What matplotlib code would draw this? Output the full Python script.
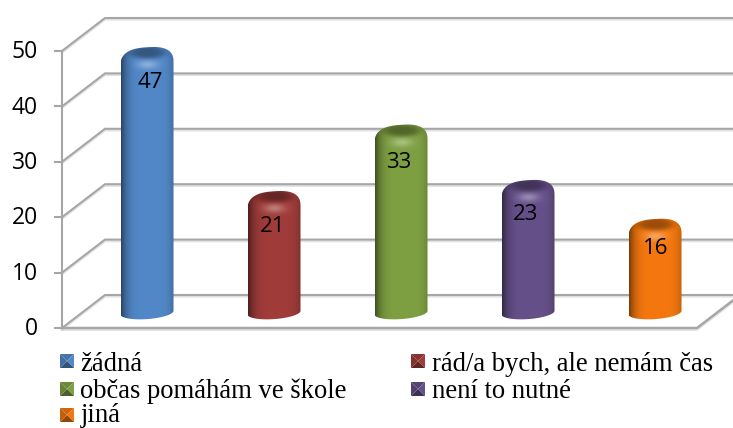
import numpy as np
import matplotlib
matplotlib.use("Agg")
import matplotlib.pyplot as plt
from matplotlib.patches import PathPatch, Polygon
from matplotlib.path import Path
import matplotlib.patheffects as pe

categories = ['žádná', 'rád/a bych, ale nemám čas', 'občas pomáhám ve škole', 'není to nutné', 'jiná']
values = [47, 21, 33, 23, 16]
ticks = [0, 10, 20, 30, 40, 50]
colors = ['#5288c8', '#a03c3a', '#7fa042', '#66508a', '#f4780f']
# label nudges in pixels, the labels do not sit at one fixed distance from the bar top
label_dx = [3, -1, -2, -2, 1]
label_dy = [14.5, 14.5, 17, 13.5, 9]

W, H = 733, 428
X0, XPX = 147.0, 127.0      # pixel of category 0, pixels per category
Y0, YPX = 328.0, 5.54       # pixel of value 0, pixels per unit
DX, DY = 43 / XPX, 33 / YPX  # depth of the 3d box
HW = 26.5 / XPX


def hex_rgb(c):
    return np.array(matplotlib.colors.to_rgb(c))


def cylinder(ax, i, val, col):
    cx = i
    base = DY / 2 - 0.2
    top_h = (val + 0.7 + DY / 2 - base) * YPX  # height in pixels
    tilt = 1.5
    # outline, u runs -1..1 across the bar, h is pixels above the base
    t = np.linspace(np.pi, 2 * np.pi, 40)
    us = list(np.cos(t))
    hs = list(6.5 * np.sin(t))
    t = np.linspace(0, np.pi, 50)
    c, s = np.cos(t), np.sin(t)
    us += list(np.sign(c) * np.abs(c) ** 0.75)
    hs += list(top_h - 17 + 17 * s ** 0.75)
    us = np.array(us)
    hs = np.array(hs) + tilt * us * 1.2
    pts = np.column_stack([cx + us * HW, base + hs / YPX])
    clip = PathPatch(Path(pts, closed=False), transform=ax.transData, fc='none', ec='none')
    ax.add_patch(clip)

    # shaded cylinder body
    uu, hh = np.meshgrid(np.linspace(-1, 1, 80), np.linspace(-8, top_h + 3, 300))
    f = 1.0 - 0.5 * np.abs((uu - 0.1) / 1.1) ** 4.5
    rgb = hex_rgb(col)[None, None, :] * f[..., None]
    cap = np.exp(-(((uu) / 0.7) ** 2 + ((hh - (top_h - 5)) / 6.5) ** 2) ** 2)
    rgb = rgb * (1 - 0.36 * cap[..., None])
    glow = np.exp(-((uu / 0.4) ** 2 + ((hh - (top_h - 17)) / 4.5) ** 2))
    rgb = rgb + (1 - rgb) * 0.32 * glow[..., None]
    im = ax.imshow(np.clip(rgb, 0, 1), origin='lower', aspect='auto', zorder=3,
                   extent=(cx - HW, cx + HW, base - 8 / YPX, base + (top_h + 3) / YPX),
                   interpolation='bilinear')
    im.set_clip_path(clip)


def legend_box(ax, px, py, col):
    s = 14
    c = hex_rgb(col)
    tr = ax.transAxes
    def P(a, b):
        return ((px + a) / W, 1 - (py + b) / H)
    tris = [
        ([P(0, 0), P(s, 0), P(s / 2, s / 2)], c * 0.85),
        ([P(s, 0), P(s, s), P(s / 2, s / 2)], c * 1.0),
        ([P(s, s), P(0, s), P(s / 2, s / 2)], c * 0.6),
        ([P(0, s), P(0, 0), P(s / 2, s / 2)], c * 0.8),
    ]
    for verts, fc in tris:
        ax.add_patch(Polygon(verts, closed=True, transform=tr, fc=np.clip(fc, 0, 1), ec='none', zorder=4))


fig = plt.figure(figsize=(W / 100, H / 100), dpi=100)
ax = fig.add_axes([0, 0, 1, 1])
ax.axis('off')

grey = '#a6a6a6'
shadow = [pe.SimpleLineShadow(offset=(0, -1.2), shadow_color='#c8c8c8', alpha=0.5), pe.Normal()]
left = -85 / XPX
right = 550 / XPX
for t in ticks:
    ax.plot([left, left + DX, right + DX + 0.3], [t, t + DY, t + DY], color=grey, lw=1.5,
            path_effects=shadow, zorder=1, solid_joinstyle='miter')
    ax.plot([left - 7 / XPX, left], [t, t], color=grey, lw=1.5, zorder=1)
    ax.text(left - 24 / XPX, t - 0.2, str(t), ha='right', va='center', fontsize=16.5,
            family='Open Sans', color='black', zorder=5)
ax.plot([left, left], [ticks[0], ticks[-1]], color=grey, lw=1.5, zorder=1)
ax.plot([left, right, right + DX], [0, 0, DY], color=grey, lw=1.8, path_effects=shadow, zorder=1)

for i, (v, col) in enumerate(zip(values, colors)):
    cylinder(ax, i, v, col)
    ax.text(i + label_dx[i] / XPX, v - label_dy[i] / YPX, str(v), ha='center', va='center',
            fontsize=16, family='Open Sans', color='black', zorder=5)

# legend, order runs row by row in two columns
leg_x = [60, 411]
leg_y = [361, 389, 415]
leg_base = [371, 398, 422]
for k, (name, col) in enumerate(zip(categories, colors)):
    px = leg_x[k % 2]
    legend_box(ax, px, leg_y[k // 2] - 7, col)
    ax.text((px + 20.5) / W, 1 - leg_base[k // 2] / H, name, transform=ax.transAxes, ha='left',
            va='baseline', fontsize=19.2, family='Liberation Serif', color='black', zorder=5)

ax.set_xlim((0 - X0) / XPX, (W - X0) / XPX)
ax.set_ylim((Y0 - H) / YPX, Y0 / YPX)
plt.savefig('out.png', dpi=100)
